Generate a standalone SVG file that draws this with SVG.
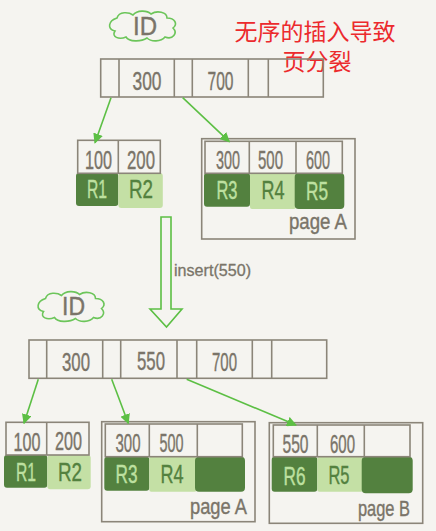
<svg xmlns="http://www.w3.org/2000/svg" width="436" height="531" viewBox="0 0 436 531">
<defs>
<style>
.bg{fill:#f5f4f0}
.cell{fill:none;stroke:#8b8579;stroke-width:1.6}
.page{fill:none;stroke:#8b8579;stroke-width:1.6}
.dk{fill:#53813f}
.lt{fill:#c4e0a5}
.num{font-family:"Liberation Sans",Arial,sans-serif;font-size:25px;fill:#7a7469;text-anchor:middle;stroke:#7a7469;stroke-width:0.4}
.rd{font-family:"Liberation Sans",Arial,sans-serif;font-size:25px;fill:#bde0a0;text-anchor:middle;stroke:#bde0a0;stroke-width:0.4}
.rl{font-family:"Liberation Sans",Arial,sans-serif;font-size:25px;fill:#53813f;text-anchor:middle;stroke:#53813f;stroke-width:0.4}
.pg{font-family:"Liberation Sans",Arial,sans-serif;font-size:22px;fill:#7a7469;text-anchor:end;stroke:#7a7469;stroke-width:0.4}
.lbl{font-family:"Liberation Sans",Arial,sans-serif;font-size:16px;fill:#7a7469;stroke:#7a7469;stroke-width:0.3}
.red{font-family:"Liberation Sans","Noto Sans CJK SC",sans-serif;font-size:23px;fill:#ec2a2d;text-anchor:middle}
.cloud{fill:none;stroke:#6cc55a;stroke-width:1.6}
.con{stroke:#5cbf44;stroke-width:1.6;fill:none}
</style>
<marker id="ah" viewBox="0 0 10 10" refX="9" refY="5" markerWidth="10" markerHeight="10" markerUnits="userSpaceOnUse" orient="auto">
<path d="M0,0 L10,5 L0,10 Z" fill="#5cbf44"/>
</marker>
<path id="cloudp" d="M10,8 C12,1 22,2 26,5 C30,0 40,0 44,4 C50,0 60,2 60,8 C68,8 71,14 66,18 C71,23 66,30 58,27 C54,32 44,32 40,28 C34,32 22,32 19,27 C12,30 4,27 8,21 C0,19 1,11 10,8 Z"/>
</defs>
<rect class="bg" x="0" y="0" width="436" height="531"/>

<g id="title">
<text class="red" x="315" y="40">无序的插入导致</text>
<text class="red" x="317" y="70">页分裂</text>
</g>

<g id="id-top">
<use href="#cloudp" class="cloud" transform="translate(107,10)"/>
<text class="num" x="145" y="35" textLength="24" lengthAdjust="spacingAndGlyphs">ID</text>
</g>

<g id="root-top">
<rect class="cell" x="100.7" y="59" width="222.6" height="38"/>
<path class="cell" d="M119,59V97 M174.3,59V97 M192.3,59V97 M248.3,59V97 M268.3,59V97"/>
<text class="num" x="147" y="90" textLength="29" lengthAdjust="spacingAndGlyphs">300</text>
<text class="num" x="220.5" y="90" textLength="26" lengthAdjust="spacingAndGlyphs">700</text>
</g>

<g id="leaf-top-left">
<rect class="dk" x="76" y="173" width="42.3" height="33" rx="3"/>
<rect class="lt" x="118.3" y="173" width="44.5" height="35" rx="3"/>
<rect class="cell" x="77.7" y="140.3" width="82.6" height="33"/>
<path class="cell" d="M118.3,140.3V173.3"/>
<text class="num" x="98.5" y="169" textLength="27" lengthAdjust="spacingAndGlyphs">100</text>
<text class="num" x="141" y="169" textLength="28" lengthAdjust="spacingAndGlyphs">200</text>
<text class="rd" x="97" y="198" textLength="20" lengthAdjust="spacingAndGlyphs">R1</text>
<text class="rl" x="141" y="198" textLength="24" lengthAdjust="spacingAndGlyphs">R2</text>
</g>

<g id="pageA-top">
<rect class="page" x="201.7" y="138.7" width="153.3" height="100.3"/>
<rect class="dk" x="204" y="173" width="46" height="33.7" rx="3"/>
<rect class="lt" x="250" y="173" width="46" height="36" rx="2"/>
<rect class="dk" x="294.7" y="173" width="49.6" height="36" rx="4"/>
<rect class="cell" x="205" y="141.3" width="137.3" height="32"/>
<path class="cell" d="M249.3,141.3V173.3 M296,141.3V173.3"/>
<text class="num" x="228" y="169" textLength="24" lengthAdjust="spacingAndGlyphs">300</text>
<text class="num" x="270.5" y="169" textLength="25" lengthAdjust="spacingAndGlyphs">500</text>
<text class="num" x="318" y="169" textLength="24" lengthAdjust="spacingAndGlyphs">600</text>
<text class="rd" x="227" y="199" textLength="21" lengthAdjust="spacingAndGlyphs">R3</text>
<text class="rl" x="273" y="199" textLength="23" lengthAdjust="spacingAndGlyphs">R4</text>
<text class="rd" x="317" y="200" textLength="22" lengthAdjust="spacingAndGlyphs">R5</text>
<text class="pg" x="347" y="229" textLength="58" lengthAdjust="spacingAndGlyphs">page A</text>
</g>

<g id="insert">
<path class="con" d="M161,217 L171,217 L171,309 L182,309 L166.5,327 L150,309 L161,309 Z"/>
<text class="lbl" x="174" y="276" textLength="77" lengthAdjust="spacingAndGlyphs">insert(550)</text>
</g>

<g id="id-bottom">
<use href="#cloudp" class="cloud" transform="translate(35.5,290.5)"/>
<text class="num" x="73.5" y="315" textLength="23" lengthAdjust="spacingAndGlyphs">ID</text>
</g>

<g id="root-bottom">
<rect class="cell" x="29" y="340" width="297.7" height="38.3"/>
<path class="cell" d="M46.7,340V378.3 M102.7,340V378.3 M120.7,340V378.3 M177,340V378.3 M196.7,340V378.3 M252.3,340V378.3 M271.7,340V378.3"/>
<text class="num" x="76" y="371" textLength="28" lengthAdjust="spacingAndGlyphs">300</text>
<text class="num" x="151" y="370" textLength="28" lengthAdjust="spacingAndGlyphs">550</text>
<text class="num" x="224.5" y="371" textLength="25" lengthAdjust="spacingAndGlyphs">700</text>
</g>

<g id="leaf-bottom-left">
<rect class="dk" x="4" y="455" width="43.3" height="32.7" rx="3"/>
<rect class="lt" x="47.3" y="455" width="43.4" height="34.3" rx="3"/>
<rect class="cell" x="6" y="422.3" width="83" height="32.7"/>
<path class="cell" d="M46.7,422.3V455"/>
<text class="num" x="27" y="451" textLength="27" lengthAdjust="spacingAndGlyphs">100</text>
<text class="num" x="68.5" y="450" textLength="27" lengthAdjust="spacingAndGlyphs">200</text>
<text class="rd" x="26" y="481" textLength="20" lengthAdjust="spacingAndGlyphs">R1</text>
<text class="rl" x="70" y="481" textLength="24" lengthAdjust="spacingAndGlyphs">R2</text>
</g>

<g id="pageA-bottom">
<rect class="page" x="101.7" y="421.7" width="153.3" height="100"/>
<rect class="dk" x="104.3" y="456.7" width="45" height="34" rx="3"/>
<rect class="lt" x="149.3" y="456.7" width="47.4" height="35" rx="2"/>
<rect class="dk" x="195" y="456.7" width="50" height="35" rx="4"/>
<rect class="cell" x="105.3" y="424" width="137" height="32.7"/>
<path class="cell" d="M149.3,424V456.7 M197.3,424V456.7"/>
<text class="num" x="128" y="452" textLength="25" lengthAdjust="spacingAndGlyphs">300</text>
<text class="num" x="171.5" y="452" textLength="24" lengthAdjust="spacingAndGlyphs">500</text>
<text class="rd" x="126.5" y="483" textLength="22" lengthAdjust="spacingAndGlyphs">R3</text>
<text class="rl" x="172" y="483" textLength="23" lengthAdjust="spacingAndGlyphs">R4</text>
<text class="pg" x="247" y="514" textLength="57" lengthAdjust="spacingAndGlyphs">page A</text>
</g>

<g id="pageB-bottom">
<rect class="page" x="269.3" y="422.7" width="153.4" height="100.6"/>
<rect class="dk" x="271.7" y="456.7" width="45.6" height="35" rx="3"/>
<rect class="lt" x="317.3" y="456.7" width="46" height="35" rx="2"/>
<rect class="dk" x="361.7" y="456.7" width="51" height="36.6" rx="4"/>
<rect class="cell" x="273.3" y="425" width="136.7" height="31.7"/>
<path class="cell" d="M317.3,425V456.7 M364.3,425V456.7"/>
<text class="num" x="295.5" y="453" textLength="26" lengthAdjust="spacingAndGlyphs">550</text>
<text class="num" x="342.5" y="453" textLength="25" lengthAdjust="spacingAndGlyphs">600</text>
<text class="rd" x="294.5" y="485" textLength="22" lengthAdjust="spacingAndGlyphs">R6</text>
<text class="rl" x="339" y="484" textLength="21" lengthAdjust="spacingAndGlyphs">R5</text>
<text class="pg" x="410" y="516" textLength="52" lengthAdjust="spacingAndGlyphs">page B</text>
</g>

<g id="connectors">
<path class="con" d="M111,97.7 L95,142.7" marker-end="url(#ah)"/>
<path class="con" d="M182.7,97.7 L229.3,141.7" marker-end="url(#ah)"/>
<path class="con" d="M38.3,379.3 L24,423.3" marker-end="url(#ah)"/>
<path class="con" d="M111.7,379.3 L128.3,423.3" marker-end="url(#ah)"/>
<path class="con" d="M186.7,379.3 L296,425" marker-end="url(#ah)"/>
</g>
</svg>
